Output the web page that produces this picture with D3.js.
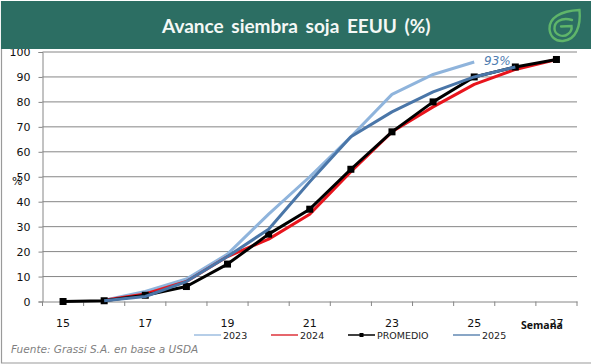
<!DOCTYPE html>
<html><head><meta charset="utf-8">
<script src="https://d3js.org/d3.v7.min.js"></script>
<style>html,body{margin:0;padding:0;background:#fff}svg{display:block}</style>
</head><body><div id="c"></div>
<script>
const weeks=[15,16,17,18,19,20,21,22,23,24,25,26,27];
const tickWeeks=[15,17,19,21,23,25,27];
const yTicks=[0,10,20,30,40,50,60,70,80,90,100];
const v2023=[null,0.5,4,9,19,35,50,66,83,91,96];
const v2024=[null,0.5,3,8,18,25,35,52,68,78,87,93,97];
const vProm=[0,0.3,2.5,6,15,27,37,53,68,80,90,94,97];
const v2025=[null,0.3,2,8,18,29,48,66,76,84,90,94];
const W=591,H=364;
const svg=d3.select('#c').append('svg').attr('width',W).attr('height',H);
const font='"DejaVu Sans",sans-serif';
svg.append('rect').attr('x',0).attr('y',0).attr('width',W).attr('height',H).attr('fill','#fff');
svg.append('path').attr('d','M1.5 1V363H591').attr('fill','none').attr('stroke','#9a9a9a').attr('stroke-width',1.2);
const x=d3.scaleBand().domain(weeks).range([42.5,577]);
const y=d3.scaleLinear().domain([0,100]).range([301.5,52]);
const cx=d=>x(d)+x.bandwidth()/2;
const g=svg.append('g');
const yAxis=d3.axisLeft(y).tickValues(yTicks).tickSize(4).tickFormat(d3.format('d'));
const ya=g.append('g').attr('transform','translate(42.5,0)').call(yAxis);
ya.select('.domain').attr('stroke','#868686');
ya.selectAll('.tick line').attr('stroke','#868686');
ya.selectAll('text').attr('font-family',font).attr('font-size',11).attr('fill','#111').attr('x',-12);
g.append('g').selectAll('line').data(yTicks.filter(d=>d>0)).join('line').attr('x1',42.5).attr('x2',577)
 .attr('y1',d=>y(d)).attr('y2',d=>y(d)).attr('stroke','#868686').attr('stroke-width',1);
const xAxis=d3.axisBottom(x).tickValues([]).tickSize(0);
g.append('g').attr('transform','translate(0,301.5)').call(xAxis).select('.domain').attr('stroke','#868686');
const edges=[...weeks.map(d=>x(d)),577];
g.append('g').selectAll('line').data(edges).join('line').attr('x1',d=>d).attr('x2',d=>d).attr('y1',301.5).attr('y2',306).attr('stroke','#868686');
g.append('g').selectAll('text').data(tickWeeks).join('text').attr('x',cx).attr('y',327).attr('text-anchor','middle')
 .attr('font-family',font).attr('font-size',11).attr('fill','#111').text(d=>d);
const line=d3.line().defined(d=>d!==null).x((d,i)=>cx(weeks[i])).y(d=>y(d));
const drawLine=(v,c)=>g.append('path').datum(v).attr('d',line).attr('fill','none').attr('stroke',c).attr('stroke-width',3).attr('stroke-linejoin','round');
drawLine(v2023,'#8fb4dc');
drawLine(v2024,'#e8141c');
drawLine(vProm,'#000');
g.append('g').selectAll('rect').data(vProm).join('rect').attr('x',(d,i)=>cx(weeks[i])-3.5).attr('y',d=>y(d)-3.5).attr('width',7).attr('height',7).attr('fill','#000');
drawLine(v2025,'#4a76a8');
svg.append('rect').attr('x',1).attr('y',1).attr('width',W-1).attr('height',48).attr('fill','#2c6e63');
svg.append('text').attr('x',162).attr('y',33).attr('fill','#f4f8f6')
 .attr('font-family','Lato,sans-serif').attr('font-weight',700).attr('font-size',19).attr('word-spacing',3).text('Avance siembra soja EEUU (%)');
const lg=svg.append('g').attr('fill','none').attr('stroke','#5fb56a').attr('stroke-width',2.4).attr('stroke-linecap','round');
lg.append('path').attr('d','M549.5 29 C549 18 560 11 579.5 10 C581 26 576 40 563 41 C555 41.5 550 36 549.5 29Z');
lg.append('path').attr('d','M572 20 C561 17 554 22 554.5 29 C555 35 563 38 568 34 C571 32 572 29 571.5 26 L561 26.5');
svg.append('text').attr('x',484).attr('y',65).attr('font-family',font).attr('font-style','italic').attr('font-size',12).attr('fill','#4f7cb0').text('93%');
svg.append('text').attr('x',12).attr('y',185).attr('font-family',font).attr('font-size',11).attr('fill','#111').text('%');
svg.append('text').attr('x',521).attr('y',329).attr('font-family','"Open Sans",sans-serif').attr('font-weight',700).attr('font-size',10.5).attr('fill','#111').text('Semana');
const legendNames=['2023','2024','PROMEDIO','2025'];
const legendColors=['#8fb4dc','#d8141c','#000','#4a76a8'];
const legendStarts=[194,271,348,453];
const lgd=svg.append('g');
legendNames.forEach((t,i)=>{
 const a=legendStarts[i],b=a+29,m=t==='PROMEDIO';
 lgd.append('line').attr('x1',a).attr('x2',b-2).attr('y1',335).attr('y2',335).attr('stroke',legendColors[i]).attr('stroke-width',m?1.5:1.3);
 if(m)lgd.append('rect').attr('x',(a+b-2)/2-2).attr('y',333).attr('width',4).attr('height',4).attr('fill','#000');
 lgd.append('text').attr('x',b).attr('y',339).attr('font-family',font).attr('font-size',9.5).attr('fill','#222').text(t);
});
svg.append('text').attr('x',11).attr('y',353).attr('font-family',font).attr('font-style','italic').attr('font-size',10.5).attr('fill','#7f7f7f').text('Fuente: Grassi S.A. en base a USDA');
</script></body></html>
